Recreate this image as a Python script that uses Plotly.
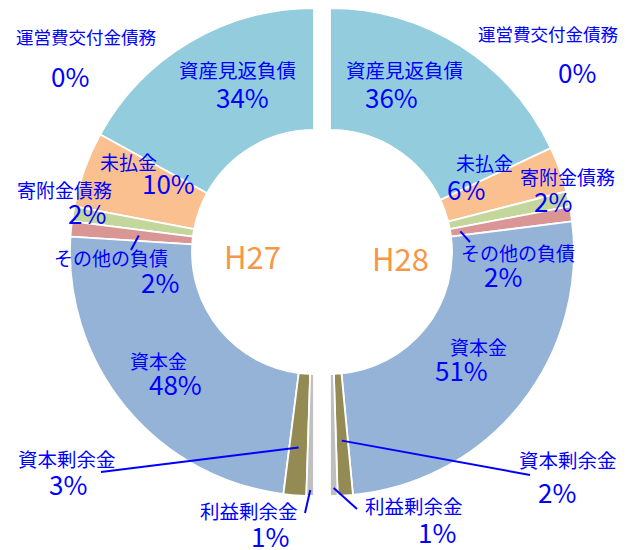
import math
import plotly.graph_objects as go

# ---------------- data ----------------
categories = ["運営費交付金債務", "資産見返負債", "未払金", "寄附金債務",
              "その他の負債", "資本金", "資本剰余金", "利益剰余金"]
h27_values = [0, 34, 10, 2, 2, 48, 3, 1]
h28_values = [0, 36, 6, 2, 2, 51, 2, 1]
years = ["H27", "H28"]

# ---------------- style ----------------
W, H = 630, 550
colors = ["#93CDDD", "#93CDDD", "#FAC090", "#C3D69B",
          "#D99694", "#95B3D7", "#948A54", "#BFBFBF"]
R = 244          # outer radius (px)
CY = 252         # centre y (px from top)
CX = {"H27": 314, "H28": 330}
HOLE = 0.5
FONT = "Noto Sans CJK JP"
TXT = "#0000FF"
NAME_SIZES = [17.5, 19.5, 19, 19, 19, 19, 19.5, 19.5]
PCT_SIZE = 26
PCT_DY = -2

# label positions in px (name centre, pct centre) per category
label_pos = {
    "H27": [((86, 37), (70, 77)), ((237, 70), (242, 98)), ((128, 161), (168, 184)),
            ((64, 189), (87, 214)), ((111, 257), (160, 283)), ((158, 360), (175, 385)),
            ((67, 458), (68, 485)), ((249, 510), (270, 537))],
    "H28": [((548, 33), (577, 74)), ((404, 70), (391, 98)), ((484, 162), (466, 190)),
            ((567, 177), (553, 202)), ((518, 253), (503, 277)), ((478, 346), (462, 371)),
            ((568, 459), (557, 493)), ((414, 505), (437, 533))],
}
# leader lines: category index -> (start radius px, end x, end y)
leaders = {
    "H27": {4: (176, 131, 250), 6: (196, 101, 472), 7: (238, 305, 513)},
    "H28": {4: (132, 470, 242), 6: (189, 530, 475), 7: (236, 357, 509)},
}


def px(x, y):
    return x / W, 1 - y / H


fig = go.Figure()
series = {"H27": h27_values, "H28": h28_values}
for yr in years:
    vals = series[yr]
    cx = CX[yr]
    x0, _ = px(cx - R, 0)
    x1, _ = px(cx + R, 0)
    _, y1 = px(0, CY - R)
    _, y0 = px(0, CY + R)
    fig.add_trace(go.Pie(
        labels=categories + ["_blank"],
        values=vals + [sum(vals)],
        sort=False,
        direction="clockwise" if yr == "H28" else "counterclockwise",
        rotation=0,
        hole=HOLE,
        textinfo="none",
        hoverinfo="skip",
        showlegend=False,
        marker=dict(colors=colors + ["rgba(0,0,0,0)"],
                    line=dict(color="white", width=[0] + [1.8] * (len(vals) - 1) + [0])),
        domain=dict(x=[x0, x1], y=[y0, y1]),
    ))

annotations = []
shapes = []
for yr in years:
    vals = series[yr]
    total = sum(vals)
    sign = 1 if yr == "H28" else -1
    for i, cat in enumerate(categories):
        (nx, ny), (qx, qy) = label_pos[yr][i]
        ax_, ay_ = px(nx, ny)
        annotations.append(dict(x=ax_, y=ay_, xref="paper", yref="paper", text=cat,
                                showarrow=False, xanchor="center", yanchor="middle",
                                font=dict(family=FONT, size=NAME_SIZES[i], color=TXT)))
        bx, by = px(qx, qy + PCT_DY)
        annotations.append(dict(x=bx, y=by, xref="paper", yref="paper", text=f"{vals[i]}%",
                                showarrow=False, xanchor="center", yanchor="middle",
                                font=dict(family=FONT, size=PCT_SIZE, color=TXT)))
    for i, (rs, ex, ey) in leaders[yr].items():
        frac = (sum(vals[:i]) + vals[i] / 2) / total
        th = math.radians(frac * 180)
        sx = CX[yr] + sign * rs * math.sin(th)
        sy = CY - rs * math.cos(th)
        p0 = px(sx, sy)
        p1 = px(ex, ey)
        shapes.append(dict(type="line", xref="paper", yref="paper",
                           x0=p0[0], y0=p0[1], x1=p1[0], y1=p1[1],
                           line=dict(color=TXT, width=2)))

year_pos = {"H27": (252, 255), "H28": (400, 257)}
for yr in years:
    x, y = px(*year_pos[yr])
    annotations.append(dict(x=x, y=y, xref="paper", yref="paper", text=yr, showarrow=False,
                            xanchor="center", yanchor="middle",
                            font=dict(family=FONT, size=31, color="#F79646")))

fig.update_layout(width=W, height=H, margin=dict(l=0, r=0, t=0, b=0),
                  paper_bgcolor="white", plot_bgcolor="white",
                  annotations=annotations, shapes=shapes)
fig.write_html("out.html", config={"displayModeBar": False},
               post_script="document.body.style.margin='0px';document.body.style.overflow='hidden';")
